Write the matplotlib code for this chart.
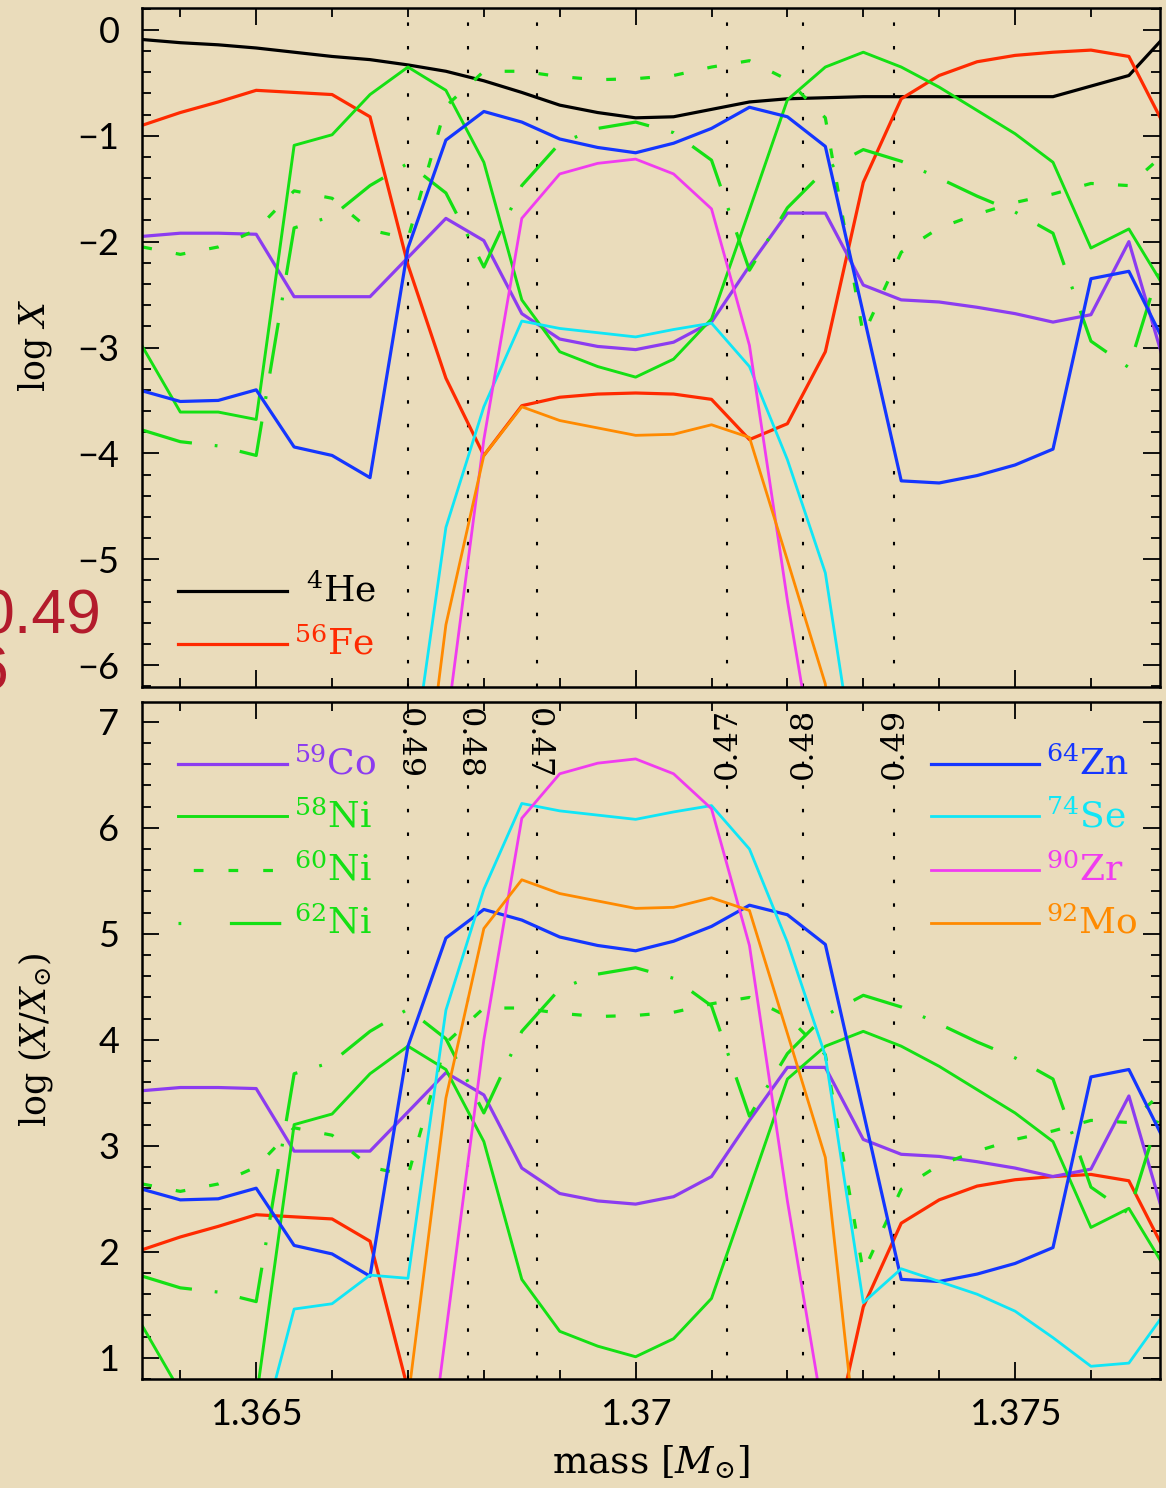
import numpy as np
import matplotlib
matplotlib.use("Agg")
import matplotlib.pyplot as plt
from matplotlib.ticker import MultipleLocator

plt.rcParams['mathtext.fontset'] = 'dejavuserif'
plt.rcParams['lines.scale_dashes'] = False

# mass coordinate of the zones [Msun]
mass = [1.3635, 1.3640, 1.3645, 1.3650, 1.3655, 1.3660, 1.3665, 1.3670,
        1.3675, 1.3680, 1.3685, 1.3690, 1.3695, 1.3700, 1.3705, 1.3710,
        1.3715, 1.3720, 1.3725, 1.3730, 1.3735, 1.3740, 1.3745, 1.3750,
        1.3755, 1.3760, 1.3765, 1.3770]

# log mass fractions (upper panel)
he4 = [-0.09, -0.12, -0.14, -0.17, -0.21, -0.25, -0.28, -0.33, -0.39, -0.48,
       -0.59, -0.71, -0.78, -0.83, -0.82, -0.75, -0.68, -0.65, -0.64, -0.63,
       -0.63, -0.63, -0.63, -0.63, -0.63, -0.53, -0.43, -0.04]
fe56 = [-0.90, -0.78, -0.68, -0.57, -0.59, -0.61, -0.82, -2.22, -3.29, -4.02,
        -3.55, -3.47, -3.44, -3.43, -3.44, -3.49, -3.87, -3.72, -3.04, -1.44,
        -0.65, -0.43, -0.30, -0.24, -0.21, -0.19, -0.25, -0.95]
co59 = [-1.95, -1.92, -1.92, -1.93, -2.52, -2.52, -2.52, -2.15, -1.78, -1.99,
        -2.68, -2.92, -2.99, -3.02, -2.95, -2.76, -2.23, -1.73, -1.73, -2.41,
        -2.55, -2.57, -2.62, -2.68, -2.76, -2.69, -2.00, -3.23]
ni58 = [-2.99, -3.61, -3.61, -3.68, -1.09, -0.99, -0.61, -0.35, -0.57, -1.25,
        -2.55, -3.04, -3.18, -3.28, -3.11, -2.73, -1.70, -0.66, -0.35, -0.21,
        -0.35, -0.54, -0.76, -0.98, -1.25, -2.06, -1.88, -2.47]
ni60 = [-2.05, -2.12, -2.05, -1.89, -1.52, -1.59, -1.89, -1.97, -0.72, -0.39,
        -0.39, -0.44, -0.47, -0.46, -0.43, -0.35, -0.29, -0.47, -0.83, -2.88,
        -2.10, -1.87, -1.74, -1.63, -1.55, -1.45, -1.47, -1.15]
ni62 = [-3.78, -3.89, -3.93, -4.02, -1.87, -1.76, -1.47, -1.26, -1.54, -2.24,
        -1.47, -1.07, -0.93, -0.87, -0.97, -1.23, -2.27, -1.68, -1.32, -1.13,
        -1.24, -1.40, -1.57, -1.72, -1.92, -2.94, -3.19, -2.03]
zn64 = [-3.41, -3.51, -3.50, -3.40, -3.94, -4.02, -4.23, -2.06, -1.04, -0.77,
        -0.87, -1.03, -1.11, -1.16, -1.07, -0.93, -0.73, -0.82, -1.10, -2.68,
        -4.26, -4.28, -4.21, -4.11, -3.96, -2.35, -2.28, -3.00]
se74 = [-9.48, -9.28, -9.08, -8.88, -7.52, -7.47, -7.20, -7.23, -4.70, -3.56,
        -2.75, -2.82, -2.86, -2.90, -2.83, -2.77, -3.18, -4.06, -5.13, -7.46,
        -7.14, -7.26, -7.38, -7.54, -7.79, -8.06, -8.03, -7.53]
zr90 = [-10.0, -10.0, -10.0, -10.0, -10.0, -10.0, -10.0, -9.40, -6.63, -3.87,
        -1.78, -1.36, -1.26, -1.22, -1.36, -1.69, -2.98, -5.39, -7.52, -10.0,
        -10.0, -10.0, -10.0, -10.0, -10.0, -10.0, -10.0, -10.0]
mo92 = [-10.0, -10.0, -10.0, -10.0, -10.0, -10.0, -10.0, -8.47, -5.62, -4.02,
        -3.56, -3.69, -3.76, -3.83, -3.82, -3.73, -3.85, -5.01, -6.18, -9.47,
        -10.0, -10.0, -10.0, -10.0, -10.0, -10.0, -10.0, -10.0]

# solar log mass fractions used for the lower panel
species = ['fe56', 'co59', 'ni58', 'ni60', 'ni62', 'zn64', 'se74', 'zr90', 'mo92']
log_solar = [-2.92, -5.47, -4.29, -4.69, -5.55, -6.00, -8.98, -7.87, -9.07]

# shell boundaries (vertical dotted lines)
shell_mass = [1.36700, 1.36779, 1.36870, 1.37121, 1.37221, 1.37341]
shell_label = ['0.49', '0.48', '0.47', '0.47', '0.48', '0.49']

c_fe = '#ff2a00'
c_co = '#8c3cf0'
c_ni = '#14e014'
c_zn = '#1436ff'
c_se = '#10e6f6'
c_zr = '#f03cf0'
c_mo = '#ff8a00'
bg = '#eadcbb'

dash60 = (0, (7.0, 17.5))
dash62 = (0, (37.0, 16.5, 2.0, 16.5))

series = {
    'fe56': (fe56, c_fe, '-', 2.3),
    'co59': (co59, c_co, '-', 2.3),
    'ni58': (ni58, c_ni, '-', 2.1),
    'ni60': (ni60, c_ni, dash60, 2.3),
    'ni62': (ni62, c_ni, dash62, 2.3),
    'zn64': (zn64, c_zn, '-', 2.3),
    'se74': (se74, c_se, '-', 2.0),
    'zr90': (zr90, c_zr, '-', 2.0),
    'mo92': (mo92, c_mo, '-', 2.0),
}
legend_ls = {'ni60': (14, (7.0, 18.0)), 'ni62': (0, (2.0, 35.0, 37.0, 20.0))}

W, H = 1166, 1488
fig = plt.figure(figsize=(W / 100, H / 100), dpi=100, facecolor=bg)
ax1 = fig.add_axes([141.6 / W, 1 - 686.7 / H, 1018.4 / W, 678.4 / H], facecolor=bg)
ax2 = fig.add_axes([141.6 / W, 1 - 1379 / H, 1018.4 / W, 677.3 / H], facecolor=bg)

m = np.array(mass)
ax1.plot(m, he4, color='black', lw=2.3)
for name, off in zip(species, log_solar):
    vals, col, ls, lw = series[name]
    v = np.array(vals)
    ax1.plot(m, v, color=col, ls=ls, lw=lw)
    ax2.plot(m, v - off, color=col, ls=ls, lw=lw)

tick_font = dict(family='Lato', weight='normal', size=26)
for ax in (ax1, ax2):
    for xm in shell_mass:
        ax.axvline(xm, color='black', lw=1.5, ls=(0, (2.5, 14.5)), zorder=0.5)
    ax.set_xlim(1.36349, 1.37691)
    ax.xaxis.set_major_locator(MultipleLocator(0.005))
    ax.xaxis.set_minor_locator(MultipleLocator(0.001))
    ax.yaxis.set_major_locator(MultipleLocator(1))
    ax.yaxis.set_minor_locator(MultipleLocator(0.2))
    ax.tick_params(which='both', direction='in', top=True, right=True, width=1.3,
                   colors='black')
    ax.tick_params(which='major', length=12)
    ax.tick_params(which='minor', length=6.5)
    ax.tick_params(axis='y', pad=16)
    ax.tick_params(axis='x', pad=14)
    for sp in ax.spines.values():
        sp.set_linewidth(1.8)

ax1.set_ylim(-6.205, 0.205)
ax2.set_ylim(0.80, 7.19)
ax1.tick_params(labelbottom=False)
ax2.set_xticks([1.365, 1.37, 1.375], ['1.365', '1.37', '1.375'])
for ax in (ax1, ax2):
    for lab in ax.get_xticklabels() + ax.get_yticklabels():
        lab.set_fontproperties(tick_font)
        lab.set_color('black')

# shell labels
for xm, lbl, k in zip(shell_mass, shell_label, range(6)):
    ax2.text(xm, 7.13, lbl, rotation=-90 if k < 3 else 90, ha='center', va='top',
             fontsize=23, family='DejaVu Serif', color='black')

# legends
serif = dict(family='DejaVu Serif', fontsize=26, va='baseline', ha='left')


def legend_entry(ax, x0, x1, y, xt, yt, label, col, ls, lw):
    ax.plot([x0, x1], [y, y], transform=ax.transAxes, color=col, ls=ls, lw=lw,
            clip_on=False)
    ax.text(xt, yt, label, transform=ax.transAxes, color=col, **serif)


legend_entry(ax1, 0.0357, 0.1428, 0.1415, 0.1615, 0.1256, r'$^{4}$He', 'black', '-', 2.3)
legend_entry(ax1, 0.0357, 0.1428, 0.0629, 0.1497, 0.0475, r'$^{56}$Fe', c_fe, '-', 2.3)

left_names = ['co59', 'ni58', 'ni60', 'ni62']
left_labels = [r'$^{59}$Co', r'$^{58}$Ni', r'$^{60}$Ni', r'$^{62}$Ni']
right_names = ['zn64', 'se74', 'zr90', 'mo92']
right_labels = [r'$^{64}$Zn', r'$^{74}$Se', r'$^{90}$Zr', r'$^{92}$Mo']
rows_y = [0.908, 0.8306, 0.7519, 0.6732]
rows_t = [0.8925, 0.8147, 0.736, 0.6573]
for name, lbl, y, yt in zip(left_names, left_labels, rows_y, rows_t):
    _, col, ls, lw = series[name]
    legend_entry(ax2, 0.0357, 0.1428, y, 0.1497, yt, lbl, col,
                 legend_ls.get(name, ls), lw)
for name, lbl, y, yt in zip(right_names, right_labels, rows_y, rows_t):
    _, col, ls, lw = series[name]
    legend_entry(ax2, 0.7751, 0.8812, y, 0.8881, yt, lbl, col, ls, lw)

# axis labels
fig.text(35 / W, 1 - 345 / H, r'log $X$', rotation=90, ha='center', va='center',
         fontsize=25, family='DejaVu Serif')
fig.text(36 / W, 1 - 1040 / H, r'log $(X/X_{\odot})$', rotation=90, ha='center',
         va='center', fontsize=25, family='DejaVu Serif')
fig.text(651 / W, 1 - 1462 / H, r'mass $[M_{\odot}]$', ha='center', va='center',
         fontsize=27, family='DejaVu Serif')

# cropped text from the neighbouring slide
fig.text(101 / W, 1 - 633 / H, '0.49', ha='right', va='baseline', color='#b31b2c',
         fontsize=45, family='Liberation Sans')
fig.text(9 / W, 1 - 690 / H, '6', ha='right', va='baseline', color='#b31b2c',
         fontsize=45, family='Liberation Sans')

fig.savefig('out.png', dpi=100, facecolor=bg)
